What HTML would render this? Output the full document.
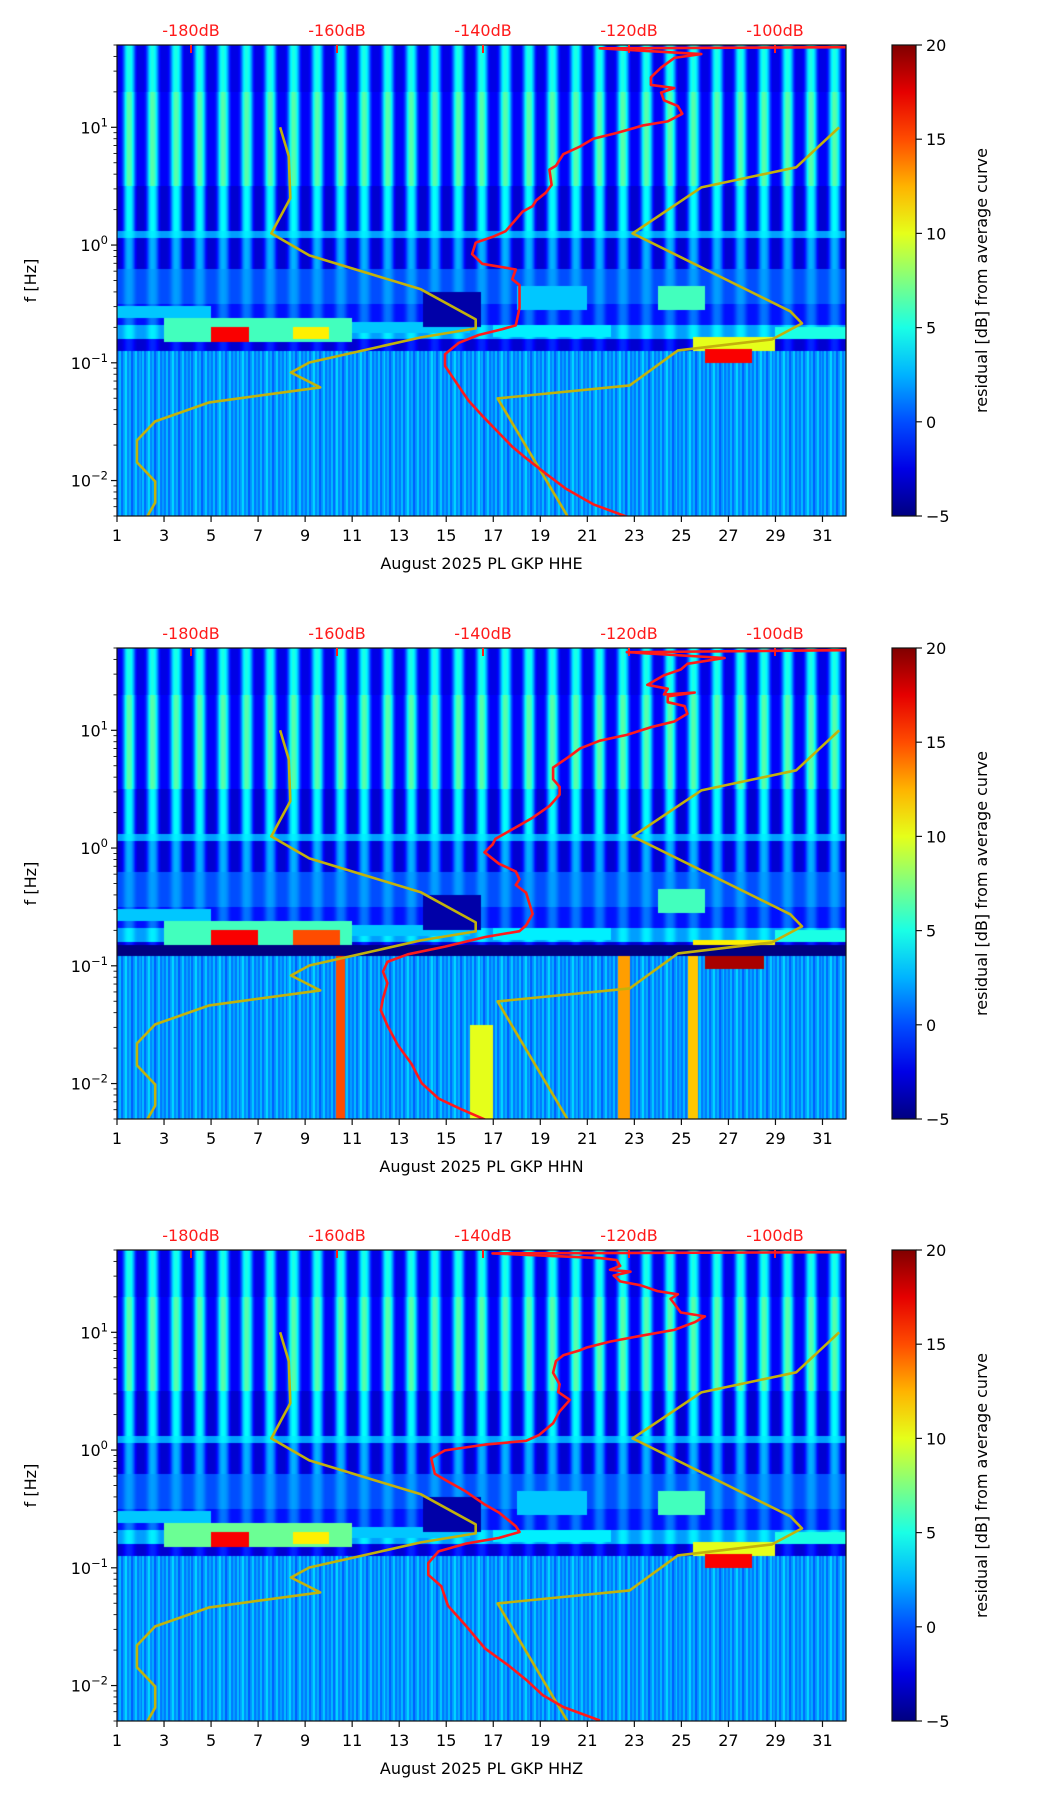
<!DOCTYPE html>
<html><head><meta charset="utf-8">
<style>
html,body{margin:0;padding:0;background:#fff;}
#root{position:relative;width:1052px;height:1806px;overflow:hidden;font-family:"DejaVu Sans","Liberation Sans",sans-serif;}
canvas{position:absolute;z-index:1;}
svg{position:absolute;left:0;top:0;z-index:2;}
</style></head>
<body>
<div id="root">
<svg id="ov" width="1052" height="1806"></svg>
</div>
<script>
// ---------- data ----------
const panelNames = ["HHE","HHN","HHZ"];
const panelTops = [45,648,1250];
const dayTicks = [1,3,5,7,9,11,13,15,17,19,21,23,25,27,29,31];
const dbTicks = [-180,-160,-140,-120,-100];
const yDecades = [1,0,-1,-2];
const cbTicks = [20,15,10,5,0,-5];

// noise model curves (dB, log10 f)
const nlnmDb = [-167.8,-166.6,-166.4,-169.0,-163.8,-148.5,-141.0,-141.0,-148.5,-163.8,-166.3,-162.3,-177.5,-184.9,-187.4,-187.4,-184.9,-184.9,-186.0];
const nlnmLf = [1.0,0.754,0.397,0.099,-0.088,-0.376,-0.631,-0.708,-0.784,-0.997,-1.082,-1.209,-1.336,-1.498,-1.659,-1.846,-2.008,-2.187,-2.305];
const nhnmDb = [-91.2,-97.1,-110.1,-119.5,-97.9,-96.3,-100.4,-113.3,-119.9,-138.0,-128.4];
const nhnmLf = [1.0,0.660,0.490,0.099,-0.563,-0.665,-0.801,-0.895,-1.192,-1.302,-2.305];

// station PSD curves
const redDb1 = [-89.8,-124.0,-110.1,-113.8,-115.6,-117.0,-117.0,-113.8,-115.6,-115.2,-113.3,-112.7,-114.7,-118.0,-121.7,-124.9,-126.7,-129.0,-130.0,-130.9,-130.6,-131.4,-132.7,-133.2,-134.6,-135.5,-136.9,-138.7,-141.0,-141.5,-140.1,-135.5,-136.0,-135.0,-135.0,-135.5,-137.4,-140.6,-143.3,-145.2,-145.2,-143.8,-142.0,-140.1,-137.8,-136.0,-134.1,-131.4,-128.6,-124.9,-120.3];
const redLf1 = [1.680,1.671,1.622,1.589,1.507,1.425,1.360,1.334,1.295,1.229,1.180,1.115,1.050,1.017,0.952,0.902,0.837,0.772,0.674,0.641,0.510,0.445,0.380,0.331,0.282,0.217,0.118,0.069,0.020,-0.077,-0.159,-0.208,-0.290,-0.339,-0.535,-0.682,-0.715,-0.764,-0.830,-0.928,-1.026,-1.156,-1.320,-1.450,-1.597,-1.712,-1.810,-1.941,-2.071,-2.202,-2.307];
const redDb2 = [-89.8,-120.3,-106.9,-112.0,-112.9,-115.2,-117.5,-114.7,-115.2,-111.0,-114.7,-114.7,-112.4,-112.0,-113.8,-117.0,-120.3,-124.0,-126.7,-128.1,-130.4,-130.4,-129.5,-129.5,-130.9,-133.2,-135.0,-136.9,-138.3,-138.7,-139.8,-137.8,-135.5,-135.0,-135.5,-134.1,-133.7,-133.2,-134.1,-135.0,-139.7,-145.2,-150.3,-153.1,-153.7,-153.1,-153.7,-154.0,-153.1,-151.7,-149.8,-148.4,-146.1,-143.3,-139.7];
const redLf2 = [1.680,1.663,1.614,1.565,1.516,1.467,1.386,1.353,1.304,1.320,1.288,1.239,1.206,1.141,1.075,1.026,0.961,0.912,0.846,0.781,0.683,0.585,0.520,0.454,0.356,0.258,0.193,0.127,0.078,0.029,-0.036,-0.134,-0.199,-0.265,-0.314,-0.379,-0.461,-0.559,-0.657,-0.706,-0.755,-0.837,-0.902,-0.967,-1.049,-1.147,-1.278,-1.376,-1.507,-1.670,-1.833,-1.997,-2.127,-2.209,-2.307];
const redDb3 = [-89.8,-138.7,-124.0,-121.7,-121.2,-122.6,-119.8,-122.1,-121.2,-118.4,-116.1,-113.3,-114.3,-112.9,-109.6,-111.0,-113.8,-118.4,-122.6,-125.8,-126.7,-129.0,-130.0,-130.4,-129.5,-129.7,-128.1,-129.5,-130.4,-132.3,-134.1,-139.7,-145.2,-147.1,-146.6,-144.8,-142.4,-139.7,-137.8,-135.5,-135.0,-137.8,-142.4,-146.1,-147.5,-147.5,-145.7,-144.8,-142.4,-139.7,-136.4,-134.1,-131.8,-129.0,-124.0];
const redLf3 = [1.680,1.670,1.630,1.614,1.564,1.531,1.515,1.482,1.432,1.399,1.350,1.323,1.284,1.168,1.135,1.086,1.020,0.970,0.921,0.871,0.848,0.805,0.756,0.657,0.558,0.492,0.426,0.327,0.228,0.129,0.079,0.046,-0.003,-0.069,-0.201,-0.267,-0.350,-0.465,-0.531,-0.647,-0.696,-0.746,-0.795,-0.861,-0.960,-1.059,-1.158,-1.323,-1.488,-1.686,-1.835,-1.950,-2.083,-2.182,-2.297];

// spectrogram residual background bands
const bandHi = [1.70,1.30,0.50,0.12,0.06,-0.20,-0.50,-0.68,-0.80,-0.90];
const bandLo = [1.30,0.50,0.12,0.06,-0.20,-0.50,-0.68,-0.80,-0.90,-2.31];
const bandNight = [-2.5,-2,-3,2,-3,0,-1.5,2,-3,0];
const bandDay = [5,6.5,4.5,4,2.5,2,1,4,-1,3.5];
const dayCycle = [0,0,0.1,0.4,0.8,1,1,0.9,0.6,0.2,0,0];
const streakCycle = [0.3,0.8,0.2,0.6,1,0.4,0.7,0.1,0.5,0.9,0.3,0.6];
// events: day start, day end, logf low, logf high, residual dB
const ev1d0=[1,3,5,8.5,11,17,24,25.5,26,29,14,18];
const ev1d1=[5,11,6.6,10,16,22,26,29,28,32,16.5,21];
const ev1l0=[-0.62,-0.82,-0.82,-0.8,-0.75,-0.78,-0.55,-0.9,-1.0,-0.8,-0.7,-0.55];
const ev1l1=[-0.52,-0.62,-0.7,-0.7,-0.65,-0.68,-0.35,-0.78,-0.88,-0.7,-0.4,-0.35];
const ev1v=[3,6,17,11,3,4,6,10,17,5,-4,3];
const ev2d0=[1,3,5,8.5,11,17,24,25.5,26,29,14,10.3,22.3,25.3,16,1];
const ev2d1=[5,11,7,10.5,16,22,26,29,28.5,32,16.5,10.7,22.8,25.7,17,32];
const ev2l0=[-0.62,-0.82,-0.82,-0.82,-0.75,-0.78,-0.55,-0.92,-1.03,-0.8,-0.7,-2.31,-2.31,-2.31,-2.31,-0.92];
const ev2l1=[-0.52,-0.62,-0.7,-0.7,-0.65,-0.68,-0.35,-0.78,-0.86,-0.7,-0.4,-0.9,-0.9,-0.9,-1.5,-0.82];
const ev2v=[3,6,17,15,3,4,6,11,19,5,-4,15,13,12,10,-5];
const ev3d0=[1,3,5,8.5,11,17,24,25.5,26,29,14,18];
const ev3d1=[5,11,6.6,10,16,22,26,29,28,32,16.5,21];
const ev3l0=[-0.62,-0.82,-0.82,-0.8,-0.75,-0.78,-0.55,-0.9,-1.0,-0.8,-0.7,-0.55];
const ev3l1=[-0.52,-0.62,-0.7,-0.7,-0.65,-0.68,-0.35,-0.78,-0.88,-0.7,-0.4,-0.35];
const ev3v=[3,7,17,11,3,4,6,10,17,5,-4,3];

// ---------- geometry ----------
const L=117, W=729, H=471, DMIN=1, DMAX=32, LFMAX=Math.log10(50), LFMIN=Math.log10(0.005);
const CBX=892, CBW=24;
function xDay(d){return L+(d-DMIN)/(DMAX-DMIN)*W;}
function yLf(top,lf){return top+(LFMAX-lf)/(LFMAX-LFMIN)*H;}
function xDb(db){return 191+(db+180)*7.3;}
function jet(t){t=Math.max(0,Math.min(1,t));const c=v=>Math.round(255*Math.max(0,Math.min(1,v)));
 return [c(1.5-Math.abs(4*t-3)),c(1.5-Math.abs(4*t-2)),c(1.5-Math.abs(4*t-1))];}
const NS="http://www.w3.org/2000/svg";
const ov=document.getElementById('ov');
function el(tag,attrs,parent){const e=document.createElementNS(NS,tag);for(const k in attrs)e.setAttribute(k,attrs[k]);(parent||ov).appendChild(e);return e;}
function cycAt(arr,f){const p=f*arr.length-0.5;const i0=Math.floor(p);const fr=p-i0;const n=arr.length;
 return arr[(i0+n)%n]*(1-fr)+arr[(i0+1)%n]*fr;}

const evSets=[[ev1d0,ev1d1,ev1l0,ev1l1,ev1v],[ev2d0,ev2d1,ev2l0,ev2l1,ev2v],[ev3d0,ev3d1,ev3l0,ev3l1,ev3v]];
const redSets=[[redDb1,redLf1],[redDb2,redLf2],[redDb3,redLf3]];

panelTops.forEach((top,pi)=>{
 const cv=document.createElement('canvas');
 cv.width=W;cv.height=H;cv.style.left=L+'px';cv.style.top=top+'px';
 
 
 document.getElementById('root').appendChild(cv);
 const ctx=cv.getContext('2d');
 const img=ctx.createImageData(W,H);
 const ev=evSets[pi];
 for(let px=0;px<W;px++){
  const d=DMIN+(px+0.5)/W*(DMAX-DMIN);
  const fd=d-Math.floor(d);
  const wDay=cycAt(dayCycle,fd);
  const wStreak=streakCycle[Math.floor(fd*12)%12];
  for(let py=0;py<H;py++){
   const lf=LFMAX-(py+0.5)/H*(LFMAX-LFMIN);
   let v=0;
   for(let b=0;b<bandHi.length;b++){
    if(lf<=bandHi[b]&&lf>bandLo[b]){
     const w=(b===bandHi.length-1)?wStreak:wDay;
     v=bandNight[b]+(bandDay[b]-bandNight[b])*w;break;}
   }
   for(let k=0;k<ev[0].length;k++){
    if(d>=ev[0][k]&&d<ev[1][k]&&lf>=ev[2][k]&&lf<ev[3][k]){v=ev[4][k];}
   }
   const c=jet((v+5)/25);const i=(py*W+px)*4;
   img.data[i]=c[0];img.data[i+1]=c[1];img.data[i+2]=c[2];img.data[i+3]=255;
  }
 }
 ctx.putImageData(img,0,0);

 const g=el('g',{});
 
 
 const cid='clip'+pi;
 const cp=el('clipPath',{id:cid},g);el('rect',{x:L,y:top-2,width:W,height:H+2},cp);
 const lines=el('g',{'clip-path':'url(#'+cid+')'},g);
 function poly(dbs,lfs,color,name){
  const pts=dbs.map((db,i)=>xDb(db).toFixed(1)+','+yLf(top,lfs[i]).toFixed(1)).join(' ');
  const p=el('polyline',{points:pts,fill:'none',stroke:color,'stroke-width':2.6,'stroke-linejoin':'round'},lines);
  
  
 }
 poly(nlnmDb,nlnmLf,'#c2b20c','low-noise-model-line');
 poly(nhnmDb,nhnmLf,'#c2b20c','high-noise-model-line');
 poly(redSets[pi][0],redSets[pi][1],'#ff1a1a','psd-curve-'+panelNames[pi].toLowerCase());
 const fr=el('rect',{x:L,y:top,width:W,height:H,fill:'none',stroke:'#111','stroke-width':1.2},g);
 
 
 dayTicks.forEach(dv=>{
  const x=xDay(dv);
  el('line',{x1:x,y1:top+H,x2:x,y2:top+H+6,stroke:'#111','stroke-width':1.2},g);
  const t=el('text',{x:x,y:top+H+25,'text-anchor':'middle','font-size':16,fill:'#000'},g);
  t.textContent=dv;
  
  
 });
 const xl=el('text',{x:L+W/2,y:top+H+53,'text-anchor':'middle','font-size':16,fill:'#000'},g);
 xl.textContent='August 2025 PL GKP  '+panelNames[pi];
 
 
 for(let dec=-3;dec<=1;dec++){
  for(let m=1;m<10;m++){
   const lf=dec+Math.log10(m);
   if(lf<LFMIN||lf>LFMAX)continue;
   const y=yLf(top,lf);
   el('line',{x1:L,y1:y,x2:L-(m===1?6:3.5),y2:y,stroke:'#111','stroke-width':m===1?1.2:0.9},g);
  }
 }
 yDecades.forEach(dec=>{
  const y=yLf(top,dec);
  const t=el('text',{x:L-9,y:y+6,'text-anchor':'end','font-size':16,fill:'#000'},g);
  const a=el('tspan',{},t);a.textContent='10';
  const b=el('tspan',{dy:-7,'font-size':11.5},t);b.textContent=dec<0?'\u2212'+(-dec):''+dec;
  
  
 });
 const yl=el('text',{x:0,y:0,'text-anchor':'middle','font-size':16,fill:'#000',transform:'translate(36,'+(top+H/2)+') rotate(-90)'},g);
 yl.textContent='f [Hz]';
 
 
 dbTicks.forEach(db=>{
  const x=xDb(db);
  el('line',{x1:x,y1:top,x2:x,y2:top+8,stroke:'#ff1a1a','stroke-width':2},g);
  const t=el('text',{x:x,y:top-9,'text-anchor':'middle','font-size':16,fill:'#ff1a1a'},g);
  t.textContent=db+'dB';
  
  
 });
 const gid='cbg'+pi;
 const lg=el('linearGradient',{id:gid,x1:0,y1:1,x2:0,y2:0},g);
 for(let s=0;s<=10;s++){const c=jet(s/10);el('stop',{offset:s/10,'stop-color':'rgb('+c.join(',')+')'},lg);}
 const cb=el('rect',{x:CBX,y:top,width:CBW,height:H,fill:'url(#'+gid+')',stroke:'#111','stroke-width':1.2},g);
 
 
 cbTicks.forEach(v=>{
  const y=top+(20-v)/25*H;
  el('line',{x1:CBX+CBW,y1:y,x2:CBX+CBW+6,y2:y,stroke:'#111','stroke-width':1.2},g);
  const t=el('text',{x:CBX+CBW+10,y:y+6,'font-size':16,fill:'#000'},g);
  t.textContent=v<0?'\u2212'+(-v):v;
  
  
 });
 const cl=el('text',{x:0,y:0,'text-anchor':'middle','font-size':16,fill:'#000',transform:'translate(987,'+(top+H/2)+') rotate(-90)'},g);
 cl.textContent='residual [dB] from average curve';
 
 
});
</script>
</body></html>
